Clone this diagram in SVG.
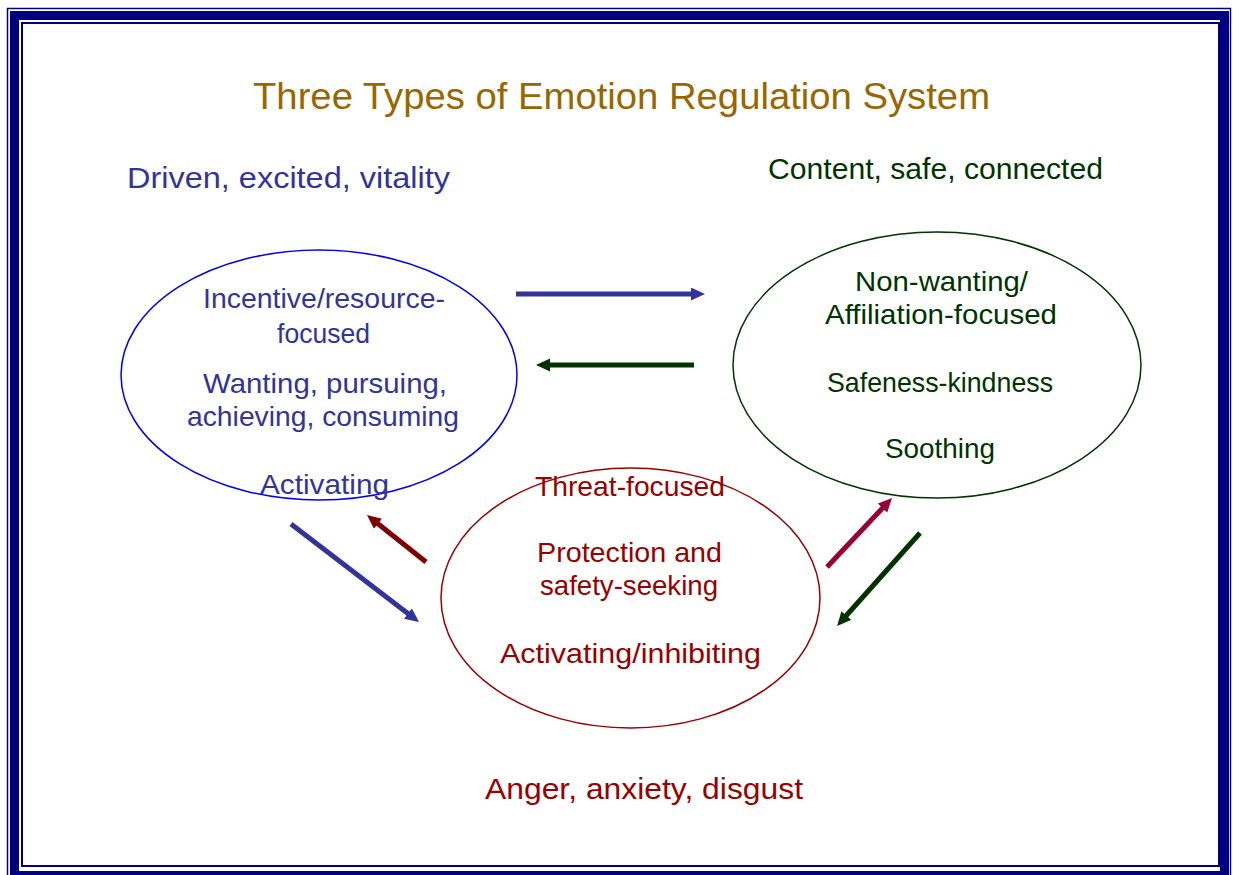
<svg xmlns="http://www.w3.org/2000/svg" width="1233" height="875" viewBox="0 0 1233 875">
<style>
text{font-family:"Liberation Sans Narrow","Liberation Sans",Arial,sans-serif;text-anchor:middle}
.title{font-size:37px;fill:#996600}
.lbl{font-size:29px}
.t{font-size:28px}
.blue{fill:#333399}
.green{fill:#003300}
.red{fill:#990000}
.frame{fill:none;stroke:#000080}
.arr{stroke-width:5;fill:none}
.ell{fill:#ffffff;stroke-width:1.5}
</style>
<defs>
<marker id="mBlue" markerUnits="userSpaceOnUse" markerWidth="16" markerHeight="14" refX="2" refY="6.5" orient="auto"><path d="M0,0 L14,6.5 L0,13 z" fill="#333399"/></marker>
<marker id="mGreen" markerUnits="userSpaceOnUse" markerWidth="16" markerHeight="14" refX="2" refY="6.5" orient="auto"><path d="M0,0 L14,6.5 L0,13 z" fill="#003300"/></marker>
<marker id="mRed" markerUnits="userSpaceOnUse" markerWidth="16" markerHeight="14" refX="2" refY="6.5" orient="auto"><path d="M0,0 L14,6.5 L0,13 z" fill="#800000"/></marker>
<marker id="mCrimson" markerUnits="userSpaceOnUse" markerWidth="16" markerHeight="14" refX="2" refY="6.5" orient="auto"><path d="M0,0 L14,6.5 L0,13 z" fill="#990033"/></marker>
</defs>
<rect width="1233" height="875" fill="#ffffff"/>
<g id="frame">
<rect class="frame" x="7.5" y="8.5" width="1223" height="880" stroke-width="1.5"/>
<rect class="frame" x="14.5" y="15.5" width="1210" height="860" stroke-width="9"/>
<rect class="frame" x="22" y="23" width="1197" height="843" stroke-width="2"/>
</g>
<text class="title" x="621.5" y="109" textLength="737" lengthAdjust="spacingAndGlyphs">Three Types of Emotion Regulation System</text>
<text class="lbl blue" x="288.5" y="188" textLength="323" lengthAdjust="spacingAndGlyphs">Driven, excited, vitality</text>
<text class="lbl green" x="935.5" y="179" textLength="335" lengthAdjust="spacingAndGlyphs">Content, safe, connected</text>
<text class="lbl red" x="644" y="799" textLength="318" lengthAdjust="spacingAndGlyphs">Anger, anxiety, disgust</text>
<g id="node-drive">
<ellipse class="ell" cx="319" cy="375" rx="198" ry="125" stroke="#0000ee"/>
<text class="t blue" x="324" y="308" textLength="242" lengthAdjust="spacingAndGlyphs">Incentive/resource-</text>
<text class="t blue" x="323.5" y="343" textLength="93" lengthAdjust="spacingAndGlyphs">focused</text>
<text class="t blue" x="325" y="393" textLength="244" lengthAdjust="spacingAndGlyphs">Wanting, pursuing,</text>
<text class="t blue" x="323" y="426" textLength="272" lengthAdjust="spacingAndGlyphs">achieving, consuming</text>
<text class="t blue" x="324.5" y="494" textLength="129" lengthAdjust="spacingAndGlyphs">Activating</text>
</g>
<g id="node-soothe">
<ellipse class="ell" cx="937" cy="365" rx="204" ry="133" stroke="#003300"/>
<text class="t green" x="941.5" y="291" textLength="173" lengthAdjust="spacingAndGlyphs">Non-wanting/</text>
<text class="t green" x="941" y="324" textLength="232" lengthAdjust="spacingAndGlyphs">Affiliation-focused</text>
<text class="t green" x="940" y="392" textLength="226" lengthAdjust="spacingAndGlyphs">Safeness-kindness</text>
<text class="t green" x="940" y="458" textLength="110" lengthAdjust="spacingAndGlyphs">Soothing</text>
</g>
<g id="node-threat">
<ellipse class="ell" cx="630.5" cy="598" rx="189.5" ry="130" stroke="#990000"/>
<text class="t red" x="630" y="496" textLength="190" lengthAdjust="spacingAndGlyphs">Threat-focused</text>
<text class="t red" x="629.5" y="562" textLength="185" lengthAdjust="spacingAndGlyphs">Protection and</text>
<text class="t red" x="629" y="595" textLength="178" lengthAdjust="spacingAndGlyphs">safety-seeking</text>
<text class="t red" x="630.5" y="663" textLength="261" lengthAdjust="spacingAndGlyphs">Activating/inhibiting</text>
</g>
<g id="connectors">
<line class="arr" x1="516" y1="294" x2="693" y2="294" stroke="#333399" marker-end="url(#mBlue)"/>
<line class="arr" x1="694" y1="365" x2="548" y2="365" stroke="#003300" marker-end="url(#mGreen)"/>
<line class="arr" x1="291" y1="524" x2="409.5" y2="614.7" stroke="#333399" marker-end="url(#mBlue)"/>
<line class="arr" x1="426" y1="562" x2="376.4" y2="522.5" stroke="#800000" marker-end="url(#mRed)"/>
<line class="arr" x1="827" y1="567" x2="883.8" y2="506.7" stroke="#990033" marker-end="url(#mCrimson)"/>
<line class="arr" x1="920" y1="533" x2="845" y2="617" stroke="#003300" marker-end="url(#mGreen)"/>
</g>
</svg>
